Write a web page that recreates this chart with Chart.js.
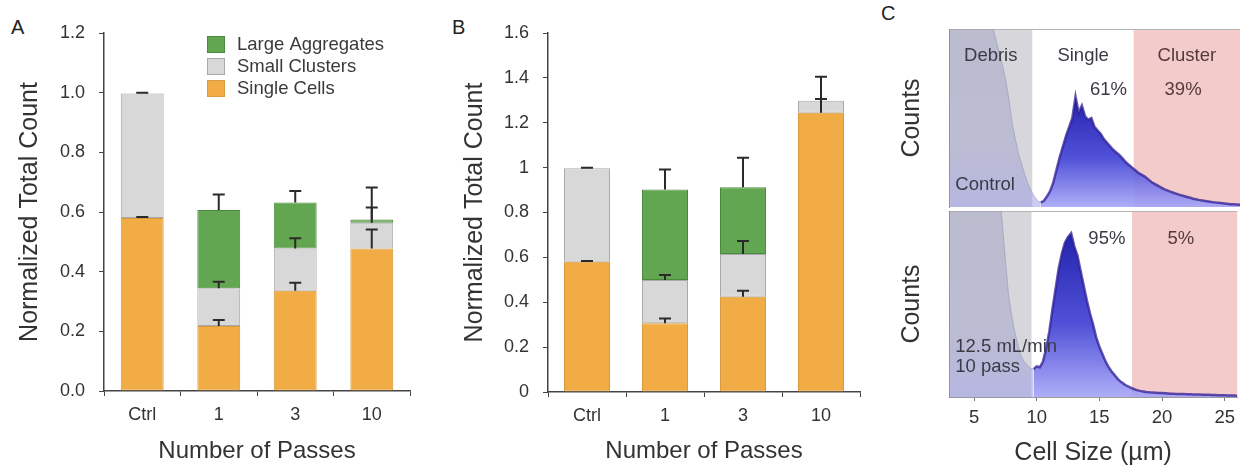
<!DOCTYPE html>
<html>
<head>
<meta charset="utf-8">
<script src="https://cdn.jsdelivr.net/npm/chart.js@4.4.1/dist/chart.umd.min.js"></script>
<style>
  html, body { margin: 0; padding: 0; background: #fff; }
  #fig { position: relative; width: 1241px; height: 468px; overflow: hidden;
         font-family: "Liberation Sans", Arial, sans-serif; }
  #fig canvas { position: absolute; }
  .tag { position: absolute; font-size: 20px; color: #222; line-height: 1; }
</style>
</head>
<body>
<div id="fig">
  <div class="tag" style="left:11px;top:17px">A</div>
  <div class="tag" style="left:452px;top:17px">B</div>
  <div class="tag" style="left:881px;top:3px">C</div>
  <canvas id="chartA" width="420" height="468" style="left:0;top:0"></canvas>
  <canvas id="chartB" width="450" height="468" style="left:420px;top:0"></canvas>
  <canvas id="chartCtop" width="361" height="210" style="left:880px;top:0"></canvas>
  <canvas id="chartCbot" width="361" height="258" style="left:880px;top:210px"></canvas>
</div>
<script>
// ---------- bar panels: counts by number of passes ----------
const passLabels  = ['Ctrl', '1', '3', '10'];
const seriesNames = ['Single Cells', 'Small Clusters', 'Large Aggregates'];

// Panel A
const singleA      = [0.580, 0.218, 0.336, 0.478];
const clusterA     = [0.417, 0.126, 0.142, 0.086];
const largeA       = [0.000, 0.263, 0.154, 0.011];
const errSingleA   = [0.003, 0.020, 0.027, 0.063];
const errClusterA  = [0.003, 0.022, 0.034, 0.051];
const errLargeA    = [null,  0.052, 0.038, 0.107];
const yTickLabelsA = ['0.0', '0.2', '0.4', '0.6', '0.8', '1.0', '1.2'];

// Panel B
const singleB      = [0.581, 0.306, 0.425, 1.245];
const clusterB     = [0.416, 0.193, 0.190, 0.053];
const largeB       = [0.000, 0.404, 0.297, 0.000];
const errSingleB   = [0.003, 0.022, 0.026, 0.061];
const errClusterB  = [0.003, 0.022, 0.058, 0.107];
const errLargeB    = [null,  0.089, 0.132, null];
const yTickLabelsB = ['0', '0.2', '0.4', '0.6', '0.8', '1', '1.2', '1.4', '1.6'];

// ---------- panel C: cell size histograms ----------
const sizeBins = [3, 3.25, 3.5, 3.75, 4, 4.25, 4.5, 4.75, 5, 5.25, 5.5, 5.75, 6, 6.25, 6.5, 6.75,
  7, 7.25, 7.5, 7.75, 8, 8.25, 8.5, 8.75, 9, 9.25, 9.5, 9.75, 10, 10.25, 10.5, 10.75,
  11, 11.25, 11.5, 11.75, 12, 12.25, 12.5, 12.75, 13, 13.25, 13.5, 13.75, 14, 14.25, 14.5, 14.75,
  15, 15.25, 15.5, 15.75, 16, 16.25, 16.5, 16.75, 17, 17.25, 17.5, 17.75, 18, 18.25, 18.5, 18.75,
  19, 19.25, 19.5, 19.75, 20, 20.25, 20.5, 20.75, 21, 21.25, 21.5, 21.75, 22, 22.25, 22.5, 22.75,
  23, 23.25, 23.5, 23.75, 24, 24.25, 24.5, 24.75, 25, 25.25, 25.5, 25.75, 26];
const controlCounts = [190, 182, 175, 168, 161, 154, 148, 142, 136, 130, 124, 118, 112, 106, 100, 93,
  86, 79, 71, 60, 47, 38, 30, 24, 18, 13, 9, 6, 3.5, 2.5, 3.5, 6,
  9, 14, 21, 28, 34, 40, 45, 50, 62, 53, 57, 51, 49, 50, 45, 43,
  41, 38, 36, 34, 32, 30.5, 29, 27, 25, 23.5, 22, 20.5, 19, 18, 17, 15.5,
  14, 13, 12, 11, 10, 9.3, 8.6, 8, 7.4, 6.8, 6.3, 5.8, 5.3, 4.8, 4.4, 4.0,
  3.7, 3.4, 3.1, 2.8, 2.6, 2.4, 2.2, 2.0, 1.8, 1.6, 1.5, 1.4, 1.3];
const passCounts = [200, 195, 190, 185, 180, 175, 170, 165, 160, 155, 150, 145, 140, 135, 130, 122,
  110, 94, 74, 55, 44, 35, 28, 22, 19, 17, 15.5, 15, 16.5, 16, 19, 26,
  35, 47, 58, 69, 77, 83, 86, 88, 81, 76, 68, 60, 52, 45, 39, 32,
  27, 23, 19, 16, 13.5, 11.5, 9.5, 8, 6.8, 5.8, 5, 4.3, 3.7, 3.3, 3, 2.7,
  2.5, 2.4, 2.3, 2.2, 2.1, 2.0, 1.9, 1.8, 1.7, 1.65, 1.6, 1.55, 1.5, 1.45, 1.4, 1.35,
  1.3, 1.25, 1.2, 1.15, 1.1, 1.05, 1.0, 0.95, 0.9, 0.85, 0.8, 0.75, 0.7];
const controlTrough = 10.25;   // debris / cell boundary in each histogram
const passTrough    = 9.75;
const sizeTicks     = [5, 10, 15, 20, 25];
const regionNames   = ['Debris', 'Single', 'Cluster'];
const regionBounds  = [3, 9.6, 17.6, 26];
const pctLabelX     = [15.6, 21.5];
const pctControl    = ['61%', '39%'];
const pctPass       = ['95%', '5%'];
const sampleControl = ['Control'];
const samplePass    = ['12.5 mL/min', '10 pass'];

// ---------- styling ----------
const FONT = '"Liberation Sans", Arial, sans-serif';
Chart.defaults.font.family = FONT;
Chart.defaults.color = '#333';
const seriesFills = ['#f1ac45', '#d8d8d8', '#63a651'];
const seriesEdges = ['#d89a3e', '#a9a9a9', '#4b8a3d'];
const regionFills = ['#d7d7db', '#ffffff', '#f4cbcb'];
const axisInk = '#444';

// Error bars drawn on top of the stacked bars, from each cumulative top.
function errorBars(errs) {
  return {
    id: 'errorBars',
    afterDatasetsDraw(chart) {
      const { ctx, scales: { y } } = chart;
      const sets = chart.data.datasets;
      ctx.save();
      ctx.strokeStyle = '#2a2a2a';
      ctx.lineWidth = 2;
      sets.forEach((ds, di) => {
        const meta = chart.getDatasetMeta(di);
        ds.data.forEach((v, j) => {
          const e = errs[di][j];
          if (e == null) return;
          let top = 0;
          for (let k = 0; k <= di; k++) top += sets[k].data[j];
          const x = meta.data[j].x;
          const y0 = y.getPixelForValue(top);
          const y1 = y.getPixelForValue(top + e);
          ctx.beginPath();
          ctx.moveTo(x, y0); ctx.lineTo(x, y1);
          ctx.moveTo(x - 6, y1); ctx.lineTo(x + 6, y1);
          ctx.stroke();
        });
      });
      ctx.restore();
    }
  };
}

// Swatch legend inside the plot, listing the stack from top to bottom.
const swatchLegend = {
  id: 'swatchLegend',
  afterDraw(chart) {
    const { ctx, chartArea: a } = chart;
    const items = chart.data.datasets.map(d => d).reverse();
    ctx.save();
    ctx.font = '18.5px ' + FONT;
    ctx.textBaseline = 'middle';
    items.forEach((ds, i) => {
      const x = a.left + 103, y = a.top + 3 + i * 22;
      ctx.fillStyle = ds.backgroundColor;
      ctx.fillRect(x, y, 18, 17);
      ctx.strokeStyle = ds.borderColor;
      ctx.lineWidth = 1;
      ctx.strokeRect(x + 0.5, y + 0.5, 17, 16);
      ctx.fillStyle = '#3a3a3a';
      ctx.fillText(ds.label, x + 30, y + 9);
    });
    ctx.restore();
  }
};

function barPanel(id, single, cluster, large, errs, yMax, yLabels, geom, withLegend) {
  const parts = [single, cluster, large];
  return new Chart(document.getElementById(id), {
    type: 'bar',
    data: {
      labels: passLabels,
      datasets: parts.map((d, i) => ({
        label: seriesNames[i], data: d,
        backgroundColor: seriesFills[i], borderColor: seriesEdges[i],
        borderWidth: 1, borderSkipped: false
      }))
    },
    options: {
      responsive: false, animation: false,
      layout: { padding: geom.padding },
      plugins: { legend: { display: false }, tooltip: { enabled: false } },
      datasets: { bar: { barPercentage: geom.barPct, categoryPercentage: 1 } },
      scales: {
        x: {
          stacked: true,
          grid: { drawOnChartArea: false, tickLength: 5, color: axisInk, offset: true },
          border: { color: axisInk, width: 1.5 },
          ticks: { font: { size: 18 }, padding: 8, color: '#333' },
          title: { display: true, text: 'Number of Passes', font: { size: 24 }, color: '#333',
                   padding: { top: 0, bottom: 2 } },
          afterFit(s) { s.height = geom.xHeight; }
        },
        y: {
          stacked: true, min: 0, max: yMax,
          ticks: { stepSize: yMax / (yLabels.length - 1), font: { size: 18 }, padding: 14, color: '#333',
                   callback: (v, i) => yLabels[i] },
          grid: { drawOnChartArea: false, tickLength: 5, color: axisInk },
          border: { color: axisInk, width: 1.5 },
          title: { display: true, text: 'Normalized Total Count', font: { size: 25 }, color: '#333',
                   padding: { top: 5, bottom: 0 } },
          afterFit(s) { s.width = geom.yWidth; }
        }
      }
    },
    plugins: withLegend ? [errorBars(errs), swatchLegend] : [errorBars(errs)]
  });
}

barPanel('chartA', singleA, clusterA, largeA, [errSingleA, errClusterA, errLargeA], 1.2, yTickLabelsA,
  { padding: { left: 10, right: 10, top: 33, bottom: 0 }, yWidth: 94, xHeight: 77, barPct: 0.56 }, true);
barPanel('chartB', singleB, clusterB, largeB, [errSingleB, errClusterB, errLargeB], 1.6, yTickLabelsB,
  { padding: { left: 35, right: 10, top: 33, bottom: 0 }, yWidth: 93, xHeight: 76, barPct: 0.59 }, false);

// ---------- histogram panels ----------
const regionBands = {
  id: 'regionBands',
  beforeDraw(chart) {
    const { ctx, chartArea: a, scales: { x } } = chart;
    ctx.save();
    for (let i = 0; i < regionNames.length; i++) {
      const x0 = x.getPixelForValue(regionBounds[i]);
      const x1 = x.getPixelForValue(regionBounds[i + 1]);
      ctx.fillStyle = regionFills[i];
      ctx.fillRect(x0, a.top, x1 - x0, a.bottom - a.top);
    }
    ctx.strokeStyle = '#b4b4b4';
    ctx.lineWidth = 1;
    ctx.beginPath();
    ctx.moveTo(a.left, a.top + 0.5); ctx.lineTo(a.right, a.top + 0.5);
    ctx.stroke();
    ctx.restore();
  }
};

function histNotes(pcts, sample, sampleY, showRegions) {
  return {
    id: 'histNotes',
    afterDatasetsDraw(chart) {
      const { ctx, scales: { x, y } } = chart;
      ctx.save();
      ctx.font = '18.5px ' + FONT;
      ctx.textBaseline = 'middle';
      ctx.textAlign = 'center';
      if (showRegions) {
        regionNames.forEach((name, i) => {
          ctx.fillStyle = i === 2 ? '#553a3a' : '#3a3a46';
          ctx.fillText(name, x.getPixelForValue((regionBounds[i] + regionBounds[i + 1]) / 2), y.getPixelForValue(85));
        });
      }
      pcts.forEach((p, i) => {
        ctx.fillStyle = i === 1 ? '#553a3a' : '#3a3a46';
        ctx.fillText(p, x.getPixelForValue(pctLabelX[i]), y.getPixelForValue(showRegions ? 66 : 85));
      });
      ctx.textAlign = 'left';
      ctx.fillStyle = '#3a3a46';
      sample.forEach((s, i) => {
        ctx.fillText(s, x.getPixelForValue(3.5), y.getPixelForValue(sampleY[i]));
      });
      ctx.restore();
    }
  };
}

function histPanel(id, counts, trough, showX, notes, geom) {
  const pts = sizeBins.map((x, i) => ({ x, y: counts[i] }));
  const debris = pts.filter(p => p.x <= trough);
  const cells  = pts.filter(p => p.x >= trough);
  const peak = Math.max(...cells.map(p => p.y));
  const cellFill = (c) => {
    const { chart } = c;
    if (!chart.chartArea) return 'rgba(50,50,200,0.85)';
    const y = chart.scales.y;
    const g = chart.ctx.createLinearGradient(0, y.getPixelForValue(0), 0, y.getPixelForValue(peak));
    g.addColorStop(0, 'rgba(165,165,248,0.9)');
    g.addColorStop(0.45, 'rgba(65,65,212,0.92)');
    g.addColorStop(1, 'rgba(25,25,170,0.96)');
    return g;
  };
  const debrisFill = (c) => {
    const { chart } = c;
    if (!chart.chartArea) return 'rgba(150,150,200,0.45)';
    const y = chart.scales.y;
    const g = chart.ctx.createLinearGradient(0, y.getPixelForValue(0), 0, y.getPixelForValue(100));
    g.addColorStop(0, 'rgba(150,150,235,0.50)');
    g.addColorStop(0.35, 'rgba(150,150,200,0.42)');
    g.addColorStop(1, 'rgba(150,150,190,0.42)');
    return g;
  };
  return new Chart(document.getElementById(id), {
    type: 'line',
    data: {
      datasets: [
        { label: 'Debris', data: debris, fill: 'origin', backgroundColor: debrisFill,
          borderColor: 'rgba(140,140,185,0.5)', borderWidth: 1, pointRadius: 0, tension: 0 },
        { label: 'Cells', data: cells, fill: 'origin', backgroundColor: cellFill,
          borderColor: 'rgba(45,30,150,0.75)', borderWidth: 2.5, pointRadius: 0, tension: 0 }
      ]
    },
    options: {
      responsive: false, animation: false,
      layout: { padding: geom.padding },
      plugins: { legend: { display: false }, tooltip: { enabled: false } },
      scales: {
        x: {
          type: 'linear', min: 3, max: 26, display: showX,
          afterBuildTicks(s) { s.ticks = sizeTicks.map(v => ({ value: v })); },
          grid: { drawOnChartArea: false, tickLength: 4, color: '#777' },
          border: { color: '#9a9a9a', width: 1 },
          ticks: { font: { size: 18.5 }, padding: 6, color: '#333' },
          title: { display: true, text: 'Cell Size (µm)', font: { size: 25 }, color: '#333',
                   padding: { top: 0, bottom: 0 } },
          afterFit(s) { if (geom.xHeight) s.height = geom.xHeight; }
        },
        y: {
          min: 0, max: 100,
          ticks: { display: false },
          grid: { display: false },
          border: { color: '#8a8a8a', width: 1, dash: [3, 2] },
          title: { display: true, text: 'Counts', font: { size: 25 }, color: '#333',
                   padding: { top: 5, bottom: 0 } },
          afterFit(s) { s.width = geom.yWidth; }
        }
      }
    },
    plugins: [regionBands, notes]
  });
}

histPanel('chartCtop', controlCounts, controlTrough, false,
  histNotes(pctControl, sampleControl, [12.4], true),
  { padding: { left: 12, right: 1, top: 29, bottom: 3 }, yWidth: 57 });
histPanel('chartCbot', passCounts, passTrough, true,
  histNotes(pctPass, samplePass, [27, 16], false),
  { padding: { left: 12, right: 1, top: 1, bottom: 0 }, yWidth: 57, xHeight: 71 });
</script>
</body>
</html>
